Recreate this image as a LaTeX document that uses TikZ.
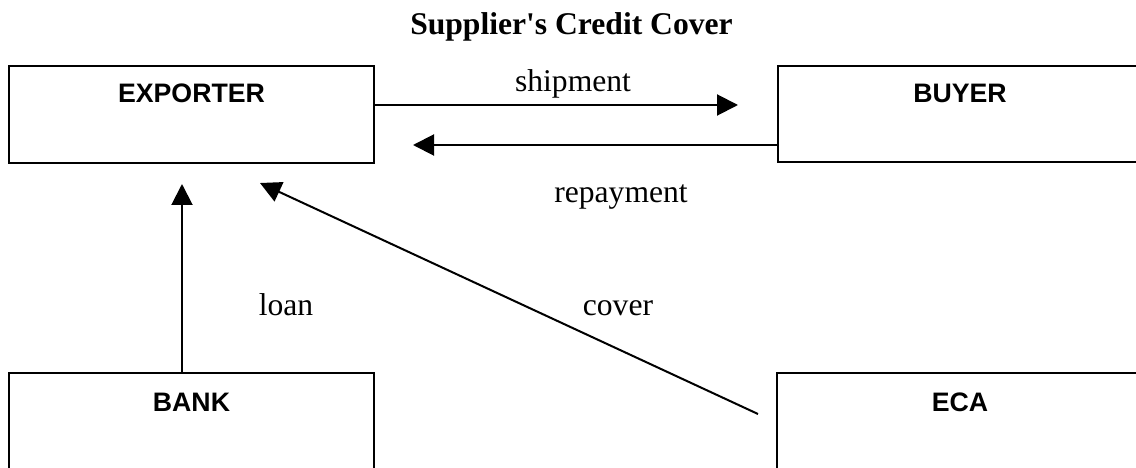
\documentclass[tikz,border=0pt]{standalone}
\usepackage{fontspec}
\setmainfont{Liberation Serif}
\newfontfamily\arialfont{Liberation Sans}
\usetikzlibrary{arrows.meta}
\begin{document}
\begin{tikzpicture}[x=1pt,y=-1pt,
  box/.style={draw,line width=2pt,rectangle,inner sep=0pt},
  boxtext/.style={anchor=base,inner sep=0pt,font=\arialfont\bfseries\fontsize{26.7}{30}\selectfont},
  lbl/.style={anchor=base,inner sep=0pt,font=\fontsize{31.6}{36}\selectfont},
  arr/.style={line width=2pt,-{Triangle[length=21pt,width=21pt]}}]
\useasboundingbox (0,0) rectangle (1136,468);
\clip (0,0) rectangle (1136,468);
% title
\node[lbl,font=\bfseries\fontsize{31.6}{36}\selectfont] (title) at (571.5,35) {Supplier\textquotesingle s Credit Cover};
% boxes
\node[box,minimum width=365pt,minimum height=97pt] (exp) at (191.5,114.5) {};
\node[box,minimum width=380pt,minimum height=96pt] (buy) at (968,114) {};
\node[box,minimum width=365pt,minimum height=120pt] (bank) at (191.5,433) {};
\node[box,minimum width=380pt,minimum height=120pt] (eca) at (967,433) {};
% box texts
\node[boxtext] (expt) at (191.5,103) {EXPORTER};
\node[boxtext] (buyt) at (960,103) {BUYER};
\node[boxtext] (bankt) at (191.5,411) {BANK};
\node[boxtext] (ecat) at (960,411) {ECA};
% connector end points
\coordinate (shipTip) at (738,105);
\coordinate (repTip) at (413,145);
\coordinate (loanTip) at (182,184);
\coordinate (coverStart) at (758,414);
\coordinate (coverTip) at (260,183);
% connectors
\draw[arr] (exp.east |- shipTip) -- (shipTip);
\draw[arr] (buy.west |- repTip) -- (repTip);
\draw[arr] (bank.north -| loanTip) -- (loanTip);
\draw[arr] (coverStart) -- (coverTip);
% labels
\node[lbl] (ship) at (573,92) {shipment};
\node[lbl] (rep) at (621,203) {repayment};
\node[lbl] (loan) at (286,315) {loan};
\node[lbl] (cover) at (618,315) {cover};
\end{tikzpicture}
\end{document}
